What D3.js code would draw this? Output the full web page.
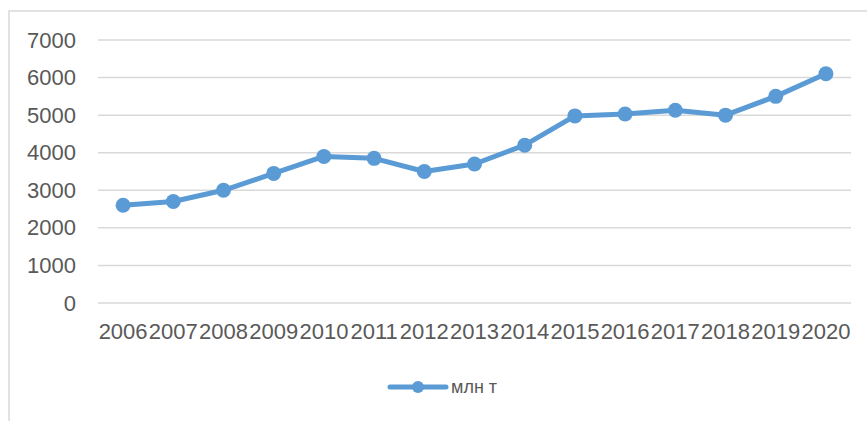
<!DOCTYPE html>
<html>
<head>
<meta charset="utf-8">
<script src="https://cdn.jsdelivr.net/npm/d3@7"></script>
<style>
body { margin: 0; background: #fff; }
text { font-family: "Liberation Sans", Arial, sans-serif; fill: #595959; }
</style>
</head>
<body>
<svg id="chart"></svg>
<script>
// values (млн т)
var years = ['2006', '2007', '2008', '2009', '2010', '2011', '2012', '2013', '2014', '2015', '2016', '2017', '2018', '2019', '2020'];
var values = [2600, 2700, 3000, 3450, 3900, 3850, 3500, 3700, 4200, 4980, 5030, 5130, 5000, 5500, 6100];
var yTicks = [0, 1000, 2000, 3000, 4000, 5000, 6000, 7000];
var seriesName = 'млн т';

var dims = {
	width: 867,
	height: 421,
	plot: { left: 98, right: 851, top: 40, bottom: 303 },
	color: '#5b9bd5',
	grid: '#d9d9d9'
};

var svg = d3.select('#chart').attr('width', dims.width).attr('height', dims.height);

// outer chart frame (cut off at right and bottom)
svg.append('rect')
	.attr('x', 9).attr('y', 11)
	.attr('width', 900).attr('height', 500)
	.attr('fill', 'none')
	.attr('stroke', dims.grid)
	.attr('stroke-width', 1.5);

var x = d3.scaleBand().domain(years).range([dims.plot.left, dims.plot.right]);
var y = d3.scaleLinear().domain([0, 7000]).range([dims.plot.bottom, dims.plot.top]);

// gridlines
svg.append('g')
	.selectAll('line')
	.data(yTicks)
	.enter()
	.append('line')
		.attr('x1', dims.plot.left)
		.attr('x2', dims.plot.right)
		.attr('y1', d => y(d))
		.attr('y2', d => y(d))
		.attr('stroke', dims.grid)
		.attr('stroke-width', 1.5);

// y axis labels
var yAxis = svg.append('g')
	.attr('transform', 'translate(' + (dims.plot.left - 22) + ',0)')
	.call(d3.axisLeft(y).tickValues(yTicks).tickFormat(d3.format('d')).tickSize(0).tickPadding(0));
yAxis.select('.domain').remove();
yAxis.selectAll('text').attr('font-size', 22).attr('font-family', null).attr('fill', '#595959');

// x axis labels
var xAxis = svg.append('g')
	.attr('transform', 'translate(0,' + (dims.plot.bottom + 20) + ')')
	.call(d3.axisBottom(x).tickSize(0).tickPadding(0));
xAxis.select('.domain').remove();
xAxis.selectAll('text').attr('font-size', 22).attr('font-family', null).attr('fill', '#595959');

// series
var line = d3.line()
	.x((d, i) => x(years[i]) + x.bandwidth() / 2)
	.y(d => y(d));

svg.append('path')
	.datum(values)
	.attr('d', line)
	.attr('fill', 'none')
	.attr('stroke', dims.color)
	.attr('stroke-width', 5)
	.attr('stroke-linejoin', 'round');

svg.append('g')
	.selectAll('circle')
	.data(values)
	.enter()
	.append('circle')
		.attr('cx', (d, i) => x(years[i]) + x.bandwidth() / 2)
		.attr('cy', d => y(d))
		.attr('r', 7.5)
		.attr('fill', dims.color);

// legend
var legend = svg.append('g').attr('transform', 'translate(390,387)');
legend.append('line')
	.attr('x1', 0).attr('x2', 56)
	.attr('y1', 0).attr('y2', 0)
	.attr('stroke', dims.color)
	.attr('stroke-width', 5)
	.attr('stroke-linecap', 'round');
legend.append('circle')
	.attr('cx', 28).attr('cy', 0).attr('r', 6)
	.attr('fill', dims.color);
legend.append('text')
	.attr('x', 61).attr('y', 0)
	.attr('dy', '0.32em')
	.attr('font-size', 18)
	.text(seriesName);
</script>
</body>
</html>
